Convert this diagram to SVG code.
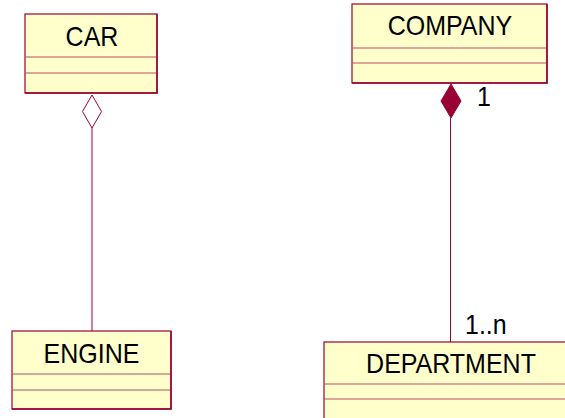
<svg xmlns="http://www.w3.org/2000/svg" width="565" height="418" viewBox="0 0 565 418">
  <style>
    .box { fill: #ffffcc; stroke: #990033; stroke-width: 1.2; }
    .sep { stroke: #c04a66; stroke-width: 1; }
    .edge { stroke: #990033; stroke-width: 1.5; fill: none; }
    .name { font-family: "Liberation Sans", Arial, sans-serif; font-size: 25px; fill: #000; text-anchor: middle; }
    .conn { stroke: #990033; stroke-width: 1; fill: none; }
    .label { font-family: "Liberation Sans", Arial, sans-serif; font-size: 25px; fill: #000; }
  </style>
  <rect width="565" height="418" fill="#ffffff"/>

  <g id="car">
    <rect class="box" x="25" y="14" width="132" height="79"/>
    <line class="sep" x1="25" y1="57" x2="157" y2="57"/>
    <line class="sep" x1="25" y1="73" x2="157" y2="73"/>
    <polyline class="edge" points="25,93 157,93 157,14"/>
    <text class="name" transform="translate(92,46) scale(1,1.1)">CAR</text>
  </g>

  <g id="company">
    <rect class="box" x="352" y="4" width="195" height="79"/>
    <line class="sep" x1="352" y1="48" x2="547" y2="48"/>
    <line class="sep" x1="352" y1="63" x2="547" y2="63"/>
    <polyline class="edge" points="352,83 547,83 547,4"/>
    <text class="name" transform="translate(450,35) scale(1,1.1)">COMPANY</text>
  </g>

  <g id="engine">
    <rect class="box" x="12" y="331" width="159" height="78"/>
    <line class="sep" x1="12" y1="374" x2="171" y2="374"/>
    <line class="sep" x1="12" y1="390" x2="171" y2="390"/>
    <polyline class="edge" points="12,409 171,409 171,331"/>
    <text class="name" transform="translate(91.5,363) scale(1,1.1)">ENGINE</text>
  </g>

  <g id="department">
    <rect class="box" x="324" y="342" width="260" height="90"/>
    <line class="sep" x1="324" y1="384" x2="584" y2="384"/>
    <line class="sep" x1="324" y1="399" x2="584" y2="399"/>
    <text class="name" transform="translate(451,373) scale(1,1.1)">DEPARTMENT</text>
  </g>

  <g id="connectors">
    <!-- aggregation: CAR <>— ENGINE -->
    <polygon class="conn" points="92,95 101.5,111.5 92,128 82.5,111.5"/>
    <line class="conn" x1="92" y1="128" x2="92" y2="331"/>
    <!-- composition: COMPANY <#>— DEPARTMENT -->
    <polygon points="451,84 461,101 451,118 441,101" fill="#990033" stroke="#990033" stroke-width="1"/>
    <line class="conn" x1="450.5" y1="118" x2="450.5" y2="342"/>
    <text class="label" transform="translate(477,106) scale(1,1.1)">1</text>
    <text class="label" transform="translate(465,334) scale(1,1.1)">1..n</text>
  </g>
</svg>
